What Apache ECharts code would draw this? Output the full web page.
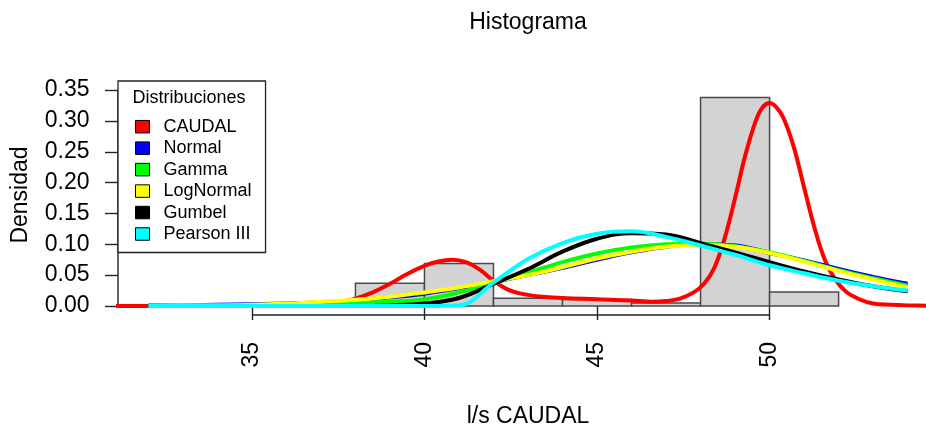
<!DOCTYPE html>
<html>
<head>
<meta charset="utf-8">
<script src="https://cdn.jsdelivr.net/npm/echarts@6/dist/echarts.min.js"></script>
<style>
  html, body { margin: 0; padding: 0; background: #fff; }
  #chart { width: 926px; height: 431px; }
</style>
</head>
<body>
<div id="chart"></div>
<script>
// Histogram bins (width 2) and their densities
const binStarts = [38, 40, 42, 44, 46, 48, 50];
const binWidth = 2;
const binDensity = [0.037, 0.069, 0.0125, 0.0105, 0.005, 0.338, 0.0225];

// Kernel density of the observed flows
const kdeX = [31, 35, 36, 36.5, 37, 37.5, 38, 38.5, 39, 39.5, 40, 40.4, 40.8, 41.2, 41.6, 42, 42.4, 42.8, 43.4, 44, 45, 46, 46.6, 47, 47.4, 47.8, 48.1, 48.4, 48.7, 49, 49.3, 49.6, 49.8, 50, 50.2, 50.4, 50.7, 51, 51.3, 51.6, 51.9, 52.2, 52.6, 53, 53.5, 54, 55];
const kdeY = [0, 0, 0.0005, 0.001, 0.003, 0.006, 0.012, 0.022, 0.036, 0.052, 0.065, 0.072, 0.075, 0.071, 0.059, 0.041, 0.027, 0.020, 0.015, 0.013, 0.011, 0.009, 0.007, 0.008, 0.012, 0.022, 0.036, 0.062, 0.11, 0.175, 0.245, 0.300, 0.322, 0.329, 0.322, 0.305, 0.258, 0.192, 0.127, 0.075, 0.043, 0.024, 0.011, 0.004, 0.002, 0.001, 0];

// Fitted distributions evaluated on a common grid
const fitX = [32, 33, 34, 35, 36, 37, 38, 39, 40, 41, 42, 43, 44, 45, 46, 47, 48, 49, 50, 51, 52, 53, 54];
const normalY    = [0.001, 0.001, 0.002, 0.003, 0.004, 0.006, 0.009, 0.014, 0.020, 0.029, 0.039, 0.050, 0.062, 0.075, 0.087, 0.096, 0.100, 0.098, 0.086, 0.074, 0.060, 0.047, 0.036];
const gammaY     = [0, 0, 0.001, 0.001, 0.002, 0.003, 0.005, 0.007, 0.011, 0.022, 0.037, 0.054, 0.071, 0.085, 0.095, 0.100, 0.101, 0.097, 0.087, 0.073, 0.058, 0.045, 0.033];
const lognormalY = [0, 0.001, 0.001, 0.002, 0.004, 0.007, 0.010, 0.015, 0.022, 0.030, 0.040, 0.050, 0.063, 0.077, 0.088, 0.096, 0.099, 0.096, 0.086, 0.072, 0.057, 0.043, 0.030];
const gumbelY    = [0, 0, 0, 0, 0, 0, 0, 0.001, 0.004, 0.013, 0.036, 0.060, 0.088, 0.109, 0.118, 0.116, 0.102, 0.087, 0.071, 0.056, 0.043, 0.032, 0.024];
const pearsonY   = [0, 0, 0, 0, 0, 0, 0, 0, 0, 0.001, 0.038, 0.076, 0.102, 0.117, 0.121, 0.112, 0.098, 0.083, 0.066, 0.053, 0.041, 0.032, 0.025];

// Axis ticks
const xTicks = [35, 40, 45, 50];
const yTicks = [0, 0.05, 0.10, 0.15, 0.20, 0.25, 0.30, 0.35];

const xMin = 31.12, xMax = 54.88;
const yMin = -0.0146, yMax = 0.3744;

const FONT = '"Liberation Sans", Arial, sans-serif';
const INK = '#222';

const pairs = (xs, ys) => xs.map((x, i) => [x, ys[i]]);

function curve(name, color, xs, ys) {
  return {
    name: name,
    type: 'line',
    color: color,
    data: pairs(xs, ys),
    showSymbol: false,
    symbol: 'none',
    smooth: 0.4,
    lineStyle: { color: color, width: 4 },
    silent: true,
    z: 3
  };
}

const chart = echarts.init(document.getElementById('chart'), null, { renderer: 'canvas' });

chart.setOption({
  animation: false,
  backgroundColor: '#fff',
  title: [
    {
      text: 'Histograma',
      left: 528, top: 11, padding: 0,
      textAlign: 'center',
      textStyle: { fontFamily: FONT, fontSize: 23, fontWeight: 'normal', color: '#000' }
    },
    {
      text: 'Distribuciones',
      left: 132.5, top: 89, padding: 0,
      textStyle: { fontFamily: FONT, fontSize: 18, fontWeight: 'normal', color: '#000' },
      z: 10
    }
  ],
  legend: {
    orient: 'vertical',
    left: 118, top: 81,
    data: ['CAUDAL', 'Normal', 'Gamma', 'LogNormal', 'Gumbel', 'Pearson III'],
    icon: 'rect',
    itemWidth: 14, itemHeight: 12.5,
    itemGap: 3.46,
    padding: [36.7, 14, 9.5, 17],
    backgroundColor: '#fff',
    borderColor: INK, borderWidth: 1.3,
    selectedMode: false,
    itemStyle: { borderColor: '#000', borderWidth: 1 },
    textStyle: { fontFamily: FONT, fontSize: 18, color: '#000', lineHeight: 18, padding: [0, 0, 0, 9] },
    z: 5
  },
  grid: { left: 118, width: 820, top: 75, height: 240, outerBoundsMode: 'none', containLabel: false },
  xAxis: {
    type: 'value',
    min: xMin, max: xMax,
    axisLine: { show: false },
    splitLine: { show: false },
    axisTick: { show: true, customValues: xTicks, length: 14, lineStyle: { color: INK, width: 1.4 } },
    axisLabel: { customValues: xTicks, rotate: 90, margin: 27, fontFamily: FONT, fontSize: 23, color: '#000' },
    name: 'l/s CAUDAL',
    nameLocation: 'middle',
    nameGap: 90,
    nameTextStyle: { fontFamily: FONT, fontSize: 23, color: '#000' }
  },
  yAxis: {
    type: 'value',
    min: yMin, max: yMax,
    axisLine: { show: false },
    splitLine: { show: false },
    axisTick: { show: true, customValues: yTicks, length: 13, lineStyle: { color: INK, width: 1.4 } },
    axisLabel: {
      customValues: yTicks,
      margin: 28.5,
      formatter: v => v.toFixed(2),
      fontFamily: FONT, fontSize: 23, color: '#000'
    },
    name: 'Densidad',
    nameLocation: 'middle',
    nameRotate: 90,
    nameGap: 86,
    nameTextStyle: { fontFamily: FONT, fontSize: 23, color: '#000' }
  },
  series: [
    {
      name: 'hist',
      type: 'custom',
      silent: true,
      data: binStarts.map((s, i) => [s, s + binWidth, binDensity[i]]),
      encode: { x: [0, 1], y: 2 },
      renderItem: function (params, api) {
        const p0 = api.coord([api.value(0), 0]);
        const p1 = api.coord([api.value(1), api.value(2)]);
        return {
          type: 'rect',
          shape: { x: p0[0], y: p1[1], width: p1[0] - p0[0], height: p0[1] - p1[1] },
          style: { fill: '#d3d3d3', stroke: '#4a4a4a', lineWidth: 1.5 }
        };
      },
      z: 2
    },
    // axis lines spanning only the labelled range
    {
      name: 'xAxisLine', type: 'line', silent: true, symbol: 'none', clip: false,
      data: [[xTicks[0], yMin], [xTicks[xTicks.length - 1], yMin]],
      lineStyle: { color: INK, width: 1.4 }, z: 2
    },
    {
      name: 'yAxisLine', type: 'line', silent: true, symbol: 'none', clip: false,
      data: [[xMin, yTicks[0]], [xMin, yTicks[yTicks.length - 1]]],
      lineStyle: { color: INK, width: 1.4 }, z: 2
    },
    curve('CAUDAL', '#ff0000', kdeX, kdeY),
    curve('Normal', '#0000ff', fitX, normalY),
    curve('Gamma', '#00ff00', fitX, gammaY),
    curve('LogNormal', '#ffff00', fitX, lognormalY),
    curve('Gumbel', '#000000', fitX, gumbelY),
    curve('Pearson III', '#00ffff', fitX, pearsonY)
  ]
});
</script>
</body>
</html>
